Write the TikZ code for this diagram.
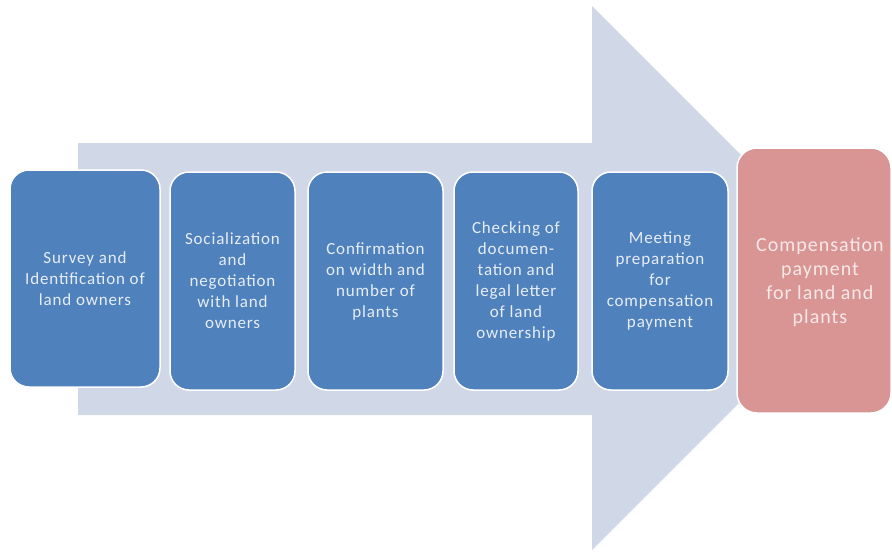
\documentclass[tikz,border=0pt]{standalone}
\usepackage{fontspec}
\setmainfont{Carlito}
\newfontfamily\boxfont[LetterSpace=5]{Carlito}
\definecolor{arrowfill}{HTML}{D0D8E8}
\definecolor{stepblue}{HTML}{4F81BD}
\definecolor{steptext}{HTML}{E6EDF6}
\definecolor{finalpink}{HTML}{D99594}
\definecolor{finaltext}{HTML}{F7E8E8}
\begin{document}
\begin{tikzpicture}[x=1pt,y=-1pt,
  stepbox/.style={draw=white, line width=1.5pt, fill=stepblue, rounded corners=19pt,
    text=steptext, align=center, inner sep=2pt,
    font=\boxfont\fontsize{17}{21}\selectfont},
  finalbox/.style={draw=white, line width=1.5pt, fill=finalpink, rounded corners=20pt},
  finallabel/.style={text=finaltext, align=center, inner sep=2pt,
    font=\boxfont\fontsize{20}{24}\selectfont}]
  \useasboundingbox (0,0) rectangle (892,552);
  % large background arrow
  \fill[arrowfill] (78,143) -- (592,143) -- (592,6) -- (864,278)
    -- (592,550) -- (592,415) -- (78,415) -- cycle;
  % process steps
  \node[stepbox, minimum width=150pt, minimum height=217pt] (s1) at (85,278.5)
    {Survey and\\Identification of\\land owners};
  \node[stepbox, minimum width=125pt, minimum height=218pt] (s2) at (232.5,281)
    {Socialization\\and\\negotiation\\with land\\owners};
  \node[stepbox, minimum width=135pt, minimum height=218pt] (s3) at (375.5,281)
    {Confirmation\\on width and\\number of\\plants};
  \node[stepbox, minimum width=124pt, minimum height=218pt] (s4) at (516,281)
    {Checking of\\documen-\\tation and\\legal letter\\of land\\ownership};
  \node[stepbox, minimum width=136pt, minimum height=218pt] (s5) at (660,281)
    {Meeting\\preparation\\for\\compensation\\payment};
  % final outcome: box, with its text set slightly right of centre
  \node[finalbox, minimum width=154pt, minimum height=265pt] (fin) at (814,280.5) {};
  \node[finallabel] (fintext) at ([xshift=6pt,yshift=-2pt]fin.center)
    {Compensation\\payment\\for land and\\plants};
\end{tikzpicture}
\end{document}
